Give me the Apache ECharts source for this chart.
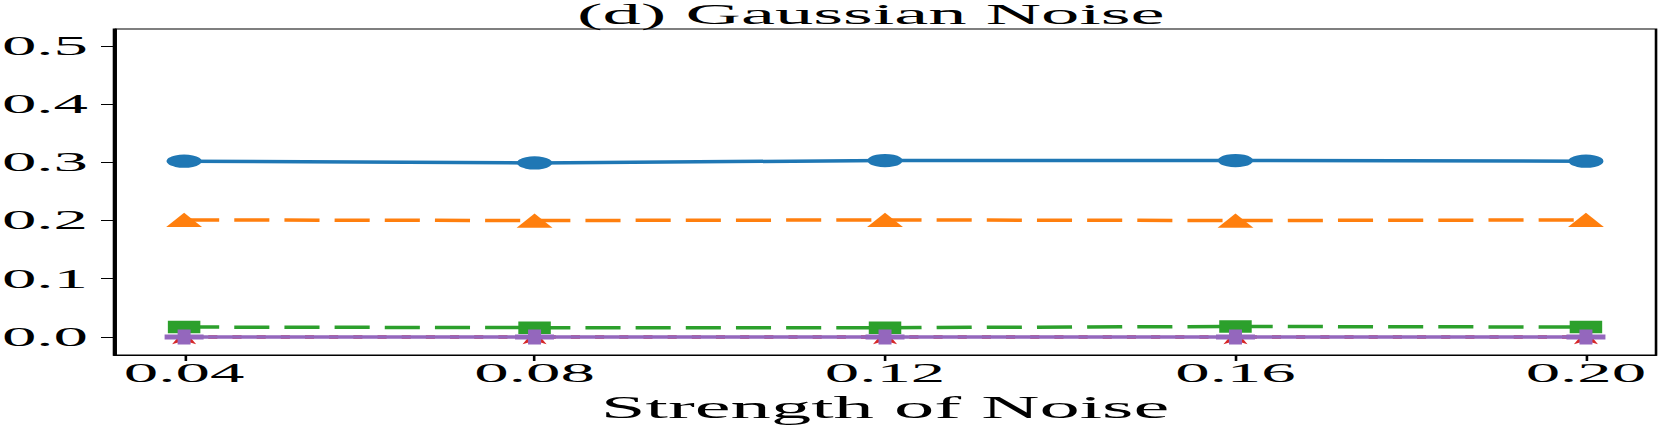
<!DOCTYPE html>
<html>
<head>
<meta charset="utf-8">
<title>(d) Gaussian Noise</title>
<script src="https://cdn.jsdelivr.net/npm/echarts@6/dist/echarts.min.js"></script>
<style>
	html, body {
		margin: 0;
		padding: 0;
		overflow: hidden;
		background: #fff;
	}
	/* 原图是横向拉伸的，这里先按窄宽度画，再横向放大 */
	#echarts1 {
		width: 639px;
		height: 425px;
		transform: scaleX(2.5994);
		transform-origin: 0 0;
	}
</style>
</head>
<body>
<div id="echarts1"></div>
<script>
	// 数据
	var noiseLevels = [0.04, 0.08, 0.12, 0.16, 0.20];
	var blueValues = [0.302, 0.299, 0.303, 0.303, 0.302];
	var orangeValues = [0.201, 0.200, 0.201, 0.200, 0.201];
	var greenValues = [0.017, 0.016, 0.016, 0.018, 0.017];
	var redValues = [0.000, 0.000, 0.000, 0.000, 0.000];
	var purpleValues = [0.000, 0.000, 0.000, 0.000, 0.000];
	var yTicks = [0.0, 0.1, 0.2, 0.3, 0.4, 0.5];
	var xTicks = [0.04, 0.08, 0.12, 0.16, 0.20];

	var font = 'Liberation Serif';
	var starPath = 'path://M50,0 L61.17,34.63 L97.55,34.55 L68.07,55.87 L79.39,90.45 L50,69 L20.61,90.45 L31.93,55.87 L2.45,34.55 L38.83,34.63 Z';
	var plusPath = 'path://M1,0 H2 V1 H3 V2 H2 V3 H1 V2 H0 V1 H1 Z';

	function pairs(vals) {
		return noiseLevels.map(function(x, i) {
			return [x, vals[i]];
		});
	}

	function makeSeries(name, vals, color, symbol, size, dash) {
		return {
			name: name,
			type: 'line',
			data: pairs(vals),
			symbol: symbol,
			symbolSize: size,
			showSymbol: true,
			animation: false,
			lineStyle: {
				color: color,
				width: 3.5,
				type: dash || 'solid'
			},
			itemStyle: {
				color: color,
				opacity: 1
			}
		};
	}

	var option1 = {
		animation: false,
		title: {
			text: '(d) Gaussian Noise',
			left: 335,
			top: -1,
			padding: 0,
			textAlign: 'center',
			textStyle: {
				fontFamily: font,
				fontSize: 29.5,
				fontWeight: 'normal',
				color: '#000'
			}
		},
		grid: {
			left: 43.86,
			right: 1.92,
			top: 29,
			bottom: 70,
			containLabel: false,
			outerBoundsMode: 'none',
			show: true,
			borderColor: '#000',
			borderWidth: 1
		},
		xAxis: {
			type: 'value',
			min: 0.032,
			max: 0.208,
			name: 'Strength of Noise',
			nameLocation: 'middle',
			nameGap: 30.5,
			nameTextStyle: {
				fontFamily: font,
				fontSize: 31,
				color: '#000'
			},
			splitLine: { show: false },
			axisLine: { show: true, onZero: false, lineStyle: { color: '#000', width: 1 } },
			axisTick: {
				show: true,
				length: 6,
				customValues: xTicks,
				lineStyle: { color: '#000', width: 1 }
			},
			axisLabel: {
				customValues: xTicks,
				margin: 5,
				fontFamily: font,
				fontSize: 26.5,
				color: '#000',
				formatter: function(v) { return v.toFixed(2); }
			}
		},
		yAxis: {
			type: 'value',
			min: -0.031,
			max: 0.529,
			splitLine: { show: false },
			axisLine: { show: true, onZero: false, lineStyle: { color: '#000', width: 1 } },
			axisTick: {
				show: true,
				length: 5,
				customValues: yTicks,
				lineStyle: { color: '#000', width: 1 }
			},
			axisLabel: {
				customValues: yTicks,
				margin: 10,
				fontFamily: font,
				fontSize: 26.5,
				color: '#000',
				formatter: function(v) { return v.toFixed(1); }
			}
		},
		series: [
			makeSeries('blue', blueValues, '#1f77b4', 'circle', [13.5, 13.3]),
			makeSeries('orange', orangeValues, '#ff7f0e', 'triangle', [13.8, 14.2], [13.5, 5.8]),
			makeSeries('green', greenValues, '#2ca02c', 'rect', [12.5, 12.5], [13.5, 5.8]),
			makeSeries('red', redValues, '#d62728', starPath, [15, 14.5], [3.5, 5.8]),
			makeSeries('purple', purpleValues, '#9467bd', plusPath, [15, 15])
		]
	};

	var chartDom = echarts.init(document.getElementById('echarts1'), null, { renderer: 'svg' });
	chartDom.setOption(option1);
</script>
</body>
</html>
